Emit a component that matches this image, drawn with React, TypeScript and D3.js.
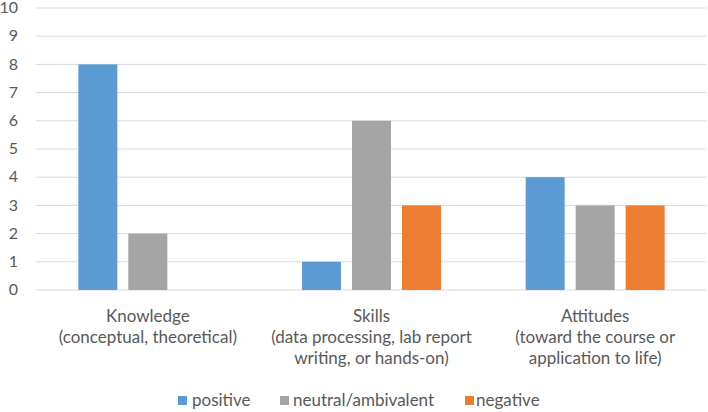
import React from "react";
import * as d3 from "d3";

const categories = ["Knowledge", "Skills", "Attitudes"];
const categoryLabels: string[][] = [
  ["Knowledge", "(conceptual, theoretical)"],
  ["Skills", "(data processing, lab report", "writing, or hands-on)"],
  ["Attitudes", "(toward the course or", "application to life)"],
];
const seriesNames = ["positive", "neutral/ambivalent", "negative"];
const positive = [8, 1, 4];
const neutral = [2, 6, 3];
const negative = [0, 3, 3];
const yTicks = [0, 1, 2, 3, 4, 5, 6, 7, 8, 9, 10];
const colors = ["#5B9BD5", "#A5A5A5", "#ED7D31"];

const W = 708;
const H = 412;
const FONT = "Lato, 'Liberation Sans', sans-serif";
const TEXT = "#595959";

export default function App() {
  const seriesValues = [positive, neutral, negative];
  const x0 = d3.scaleBand<string>().domain(categories).range([36, 707]).padding(0);
  const groupW = 139;
  const x1 = d3.scaleBand<string>().domain(seriesNames).range([0, groupW]).paddingInner(0.22).paddingOuter(0);
  const y = d3.scaleLinear().domain([0, 10]).range([290, 8]);

  const legendItems = [
    { name: seriesNames[0], sq: 178, tx: 192 },
    { name: seriesNames[1], sq: 280, tx: 293 },
    { name: seriesNames[2], sq: 465, tx: 476 },
  ];

  return (
    <svg width={W} height={H} style={{ position: "absolute", left: 0, top: 0, background: "#fff" }} fontFamily={FONT}>
      <rect x={0} y={0} width={W} height={H} fill="#fff" />
      {yTicks.map((t) => (
        <g key={t}>
          <line x1={36} x2={707} y1={y(t)} y2={y(t)} stroke="#D9D9D9" strokeWidth={1} />
          <text x={18} y={y(t)} dy="0.33em" textAnchor="end" fontSize={16} fill={TEXT}>{t}</text>
        </g>
      ))}
      {categories.map((c, ci) => {
        const off = x0(c)! + (x0.bandwidth() - groupW) / 2;
        return (
          <g key={c}>
            {seriesNames.map((s, si) => {
              const v = seriesValues[si][ci];
              if (!v) return null;
              return (
                <rect key={s} x={off + x1(s)!} y={y(v)} width={x1.bandwidth()} height={y(0) - y(v)} fill={colors[si]} />
              );
            })}
            {categoryLabels[ci].map((ln, li) => (
              <text key={li} x={x0(c)! + x0.bandwidth() / 2} y={316 + li * 21} dy="0.35em" textAnchor="middle" fontSize={17} fill={TEXT}>
                {ln}
              </text>
            ))}
          </g>
        );
      })}
      {legendItems.map((l, i) => (
        <g key={l.name}>
          <rect x={l.sq} y={396} width={9} height={9} fill={colors[i]} />
          <text x={l.tx} y={400} dy="0.35em" fontSize={17} fill={TEXT}>{l.name}</text>
        </g>
      ))}
    </svg>
  );
}
